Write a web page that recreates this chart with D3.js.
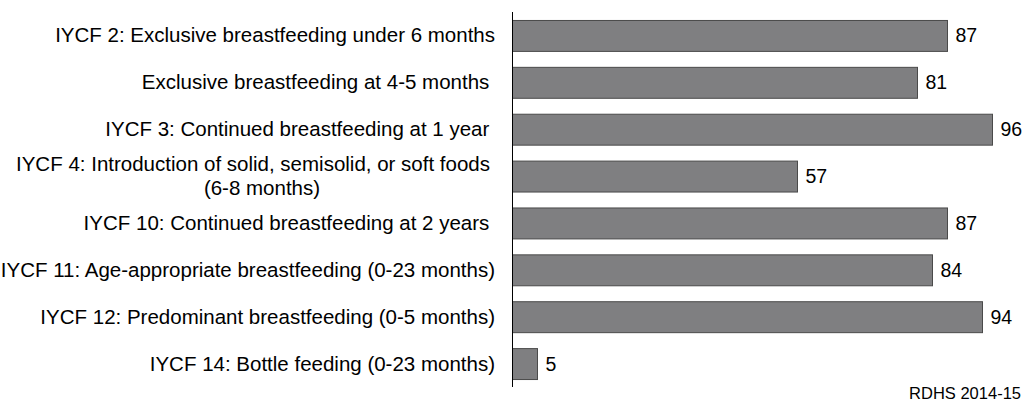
<!DOCTYPE html>
<html><head><meta charset="utf-8">
<script src="https://cdn.jsdelivr.net/npm/d3@7"></script>
<style>body{margin:0;background:#fff}svg{display:block}text{font-family:"Liberation Sans",Arial,sans-serif;fill:#000}</style>
</head><body>
<svg id="c" width="1030" height="404"></svg>
<script>
const categories = [
  ["IYCF 2: Exclusive breastfeeding under 6 months"],
  ["Exclusive breastfeeding at 4-5 months "],
  ["IYCF 3: Continued breastfeeding at 1 year "],
  ["IYCF 4: Introduction of solid, semisolid, or soft foods", "(6-8 months)"],
  ["IYCF 10: Continued breastfeeding at 2 years "],
  ["IYCF 11: Age-appropriate breastfeeding (0-23 months)"],
  ["IYCF 12: Predominant breastfeeding (0-5 months)"],
  ["IYCF 14: Bottle feeding (0-23 months)"]
];
const values = [87, 81, 96, 57, 87, 84, 94, 5];
const source = "RDHS 2014-15";

const svg = d3.select("#c");
const x0 = 512.5;
const x = d3.scaleLinear().domain([0, 100]).range([x0, x0 + 500]);
const p = 0.34;
const y = d3.scaleBand().domain(d3.range(values.length)).range([12, 387]).paddingInner(p).paddingOuter(p / 2);

// bars
svg.append("g").selectAll("rect").data(values).join("rect")
  .attr("x", x(0))
  .attr("y", (d, i) => y(i) + 0.5)
  .attr("width", d => x(d) - x(0))
  .attr("height", y.bandwidth())
  .attr("fill", "#7f7f81")
  .attr("stroke", "#4a4a4a")
  .attr("stroke-width", 1);

// value labels
svg.append("g").selectAll("text").data(values).join("text")
  .attr("x", d => x(d) + 8)
  .attr("y", (d, i) => y(i) + y.bandwidth() / 2 + 7)
  .attr("font-size", 19.5)
  .text(d => d);

// axis line
svg.append("line").attr("x1", x0).attr("x2", x0).attr("y1", 12).attr("y2", 387)
  .attr("stroke", "#000").attr("stroke-width", 1);

// category labels
const lineGap = 23.5;
const lab = svg.append("g").selectAll("text").data(categories).join("text")
  .attr("font-size", 20.5)
  .attr("text-anchor", d => d.length > 1 ? "middle" : "end")
  .attr("x", d => d.length > 1 ? 253 : 495)
  .attr("y", (d, i) => y(i) + y.bandwidth() / 2 + 7 - (d.length - 1) * lineGap / 2);
lab.each(function(d) {
  const t = d3.select(this);
  d.forEach((line, k) => {
    t.append("tspan").attr("x", k === 0 ? t.attr("x") : 262).attr("dy", k === 0 ? 0 : lineGap).style("white-space", "pre").text(line);
  });
});

svg.append("text").attr("x", 1021).attr("y", 399).attr("text-anchor", "end").attr("font-size", 16.5).text(source);
</script>
</body></html>
